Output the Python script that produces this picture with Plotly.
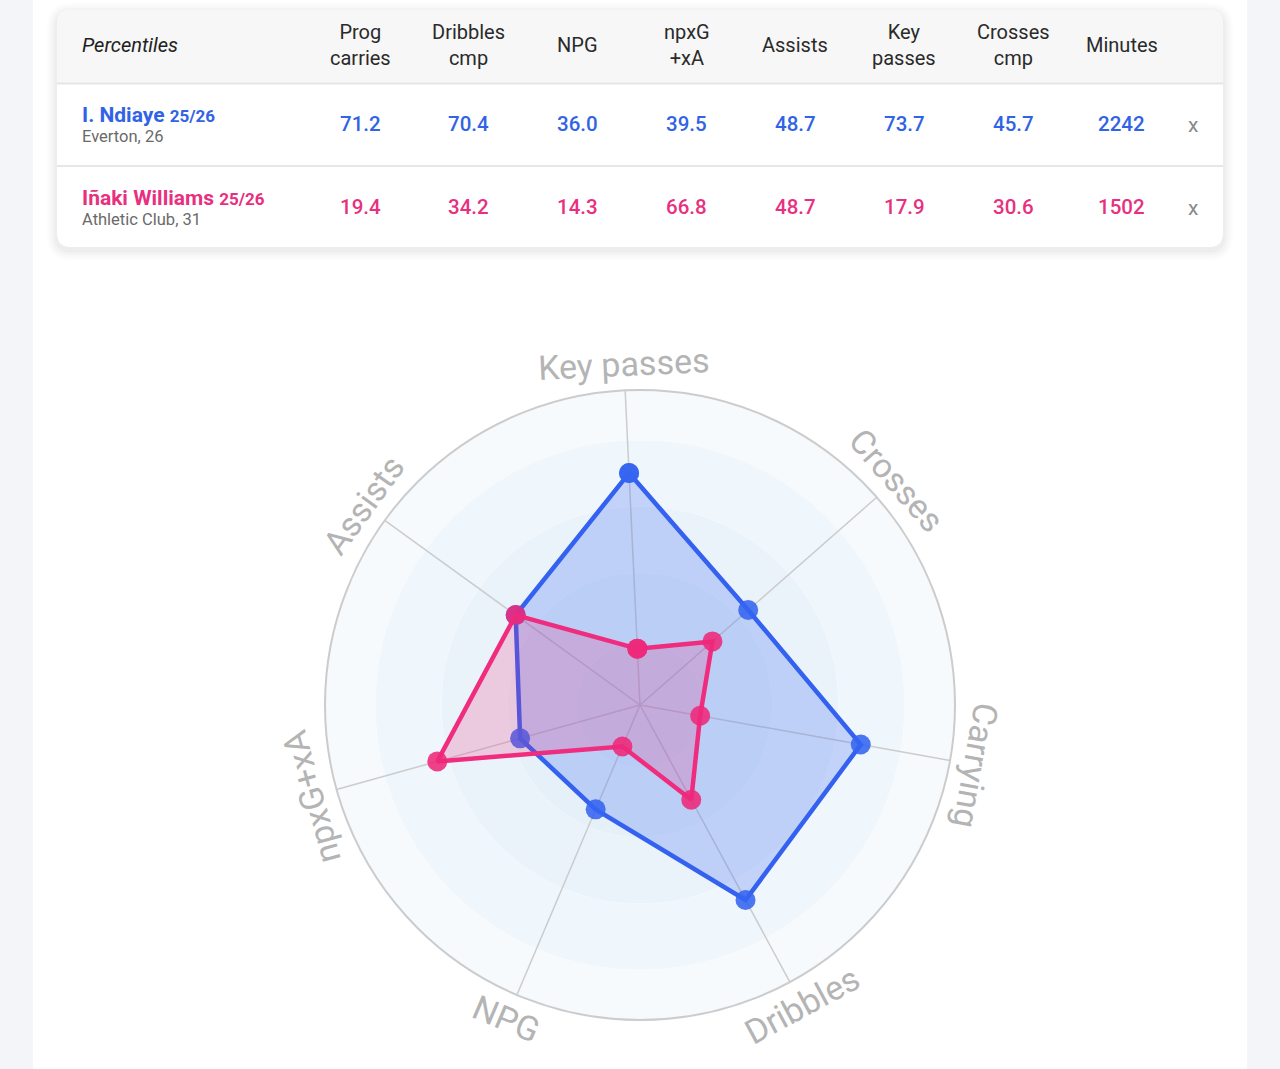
import plotly.graph_objects as go
import math

# ---------------- data ----------------
table_columns = ["Prog<br>carries", "Dribbles<br>cmp", "NPG", "npxG<br>+xA", "Assists",
                 "Key<br>passes", "Crosses<br>cmp", "Minutes"]
player_names = ["I. Ndiaye", "Iñaki Williams"]
player_seasons = ["25/26", "25/26"]
player_subtitles = ["Everton, 26", "Athletic Club, 31"]
ndiaye_table = ["71.2", "70.4", "36.0", "39.5", "48.7", "73.7", "45.7", "2242"]
williams_table = ["19.4", "34.2", "14.3", "66.8", "48.7", "17.9", "30.6", "1502"]

radar_axes = ["Key passes", "Crosses", "Carrying", "Dribbles", "NPG", "npxG+xA", "Assists"]
ndiaye_radar = [73.7, 45.7, 71.2, 70.4, 36.0, 39.5, 48.7]
williams_radar = [17.9, 30.6, 19.4, 34.2, 14.3, 66.8, 48.7]

band_edges = [20, 42, 63, 84, 100]
band_colors = ["#e2eef8", "#e6f0f9", "#eaf3fa", "#eff6fc", "#f6fafd"]

# ---------------- style ----------------
W, H = 1280, 1069
FONT = "Roboto"
BLUE = "#3163e6"
PINK = "#e8307f"
BLUE_LINE = "#3461f0"
PINK_LINE = "#ef2c7d"
CX, CY, R = 640, 705, 315
ROT = 92.7
LABEL_R = 341

fig = go.Figure()

fig.update_xaxes(range=[0, W], visible=False, domain=[0, 1], fixedrange=True)
fig.update_yaxes(range=[H, 0], visible=False, domain=[0, 1], fixedrange=True)
fig.add_trace(go.Scatter(x=[0], y=[0], mode="markers", marker=dict(opacity=0), showlegend=False, hoverinfo="skip"))

def rrect(x0, y0, x1, y1, r, top=True, bottom=True):
    p = []
    if top:
        p.append(f"M{x0},{y0 + r} Q{x0},{y0} {x0 + r},{y0} L{x1 - r},{y0} Q{x1},{y0} {x1},{y0 + r}")
    else:
        p.append(f"M{x0},{y0} L{x1},{y0}")
    if bottom:
        p.append(f"L{x1},{y1 - r} Q{x1},{y1} {x1 - r},{y1} L{x0 + r},{y1} Q{x0},{y1} {x0},{y1 - r}")
    else:
        p.append(f"L{x1},{y1} L{x0},{y1}")
    p.append("Z")
    return " ".join(p)

shapes = []
shapes.append(dict(type="rect", xref="x", yref="y", x0=33, x1=1247, y0=-5, y1=H + 5,
                   fillcolor="white", line=dict(width=0), layer="below"))
for i, a in enumerate([0.010, 0.014, 0.018, 0.024]):
    g = 10 - 2.5 * i
    shapes.append(dict(type="path", xref="x", yref="y",
                       path=rrect(57 - g, 10 - g + 3, 1223 + g, 247 + g + 3, 14 + g),
                       fillcolor=f"rgba(0,0,0,{a})", line=dict(width=0), layer="below"))
TX0, TX1, TY0, TY1 = 57, 1223, 10, 247
shapes.append(dict(type="path", xref="x", yref="y", path=rrect(TX0, TY0, TX1, TY1, 14),
                   fillcolor="white", line=dict(width=0), layer="below"))
shapes.append(dict(type="path", xref="x", yref="y", path=rrect(TX0, TY0, TX1, 83, 14, bottom=False),
                   fillcolor="#f7f7f7", line=dict(width=0), layer="below"))
for yy in [83.5, 166]:
    shapes.append(dict(type="line", xref="x", yref="y", x0=TX0, x1=TX1, y0=yy, y1=yy,
                       line=dict(color="#e6e6e6", width=2), layer="below"))

annotations = []
def ann(x, y, text, size, color, xanchor="center", angle=0, weight=None, italic=False):
    f = dict(family=FONT, size=size, color=color)
    if weight:
        f["weight"] = weight
    if italic:
        f["style"] = "italic"
    annotations.append(dict(x=x, y=y, xref="x", yref="y", text=text, showarrow=False,
                            xanchor=xanchor, yanchor="middle", textangle=angle, font=f,
                            borderpad=0, borderwidth=0))

ann(82, 45, "Percentiles", 20, "#222222", xanchor="left", italic=True)
col_x0, col_dx = 360, 108.85
for i, c in enumerate(table_columns):
    ann(col_x0 + i * col_dx, 45, c, 20, "#2a2a2a")

rows = [(ndiaye_table, BLUE, 0), (williams_table, PINK, 1)]
row_y = [124, 207]
for vals, col, k in rows:
    y = row_y[k]
    ann(82, y - 9, f"<b>{player_names[k]}</b> <span style='font-size:17px'><b>{player_seasons[k]}</b></span>",
        21, col, xanchor="left")
    ann(82, y + 12, player_subtitles[k], 16.5, "#6a6a6a", xanchor="left")
    for i, v in enumerate(vals):
        ann(col_x0 + i * col_dx, y, v, 20.5, col, weight=500)
    ann(1193, y + 1, "x", 21, "#8a8a8a")

# ---------------- radar ----------------
n = len(radar_axes)
thetas = [i * 360 / n for i in range(n)]

inner = 0
for edge, colr in zip(band_edges, band_colors):
    fig.add_trace(go.Barpolar(r=[edge - inner], base=[inner], theta=[0], width=[360],
                              marker=dict(color=colr, line=dict(width=0)),
                              showlegend=False, hoverinfo="skip", subplot="polar"))
    inner = edge

for t in thetas:
    fig.add_trace(go.Scatterpolar(r=[0, band_edges[-1]], theta=[t, t], mode="lines",
                                  line=dict(color="#cccccc", width=1.5),
                                  showlegend=False, hoverinfo="skip", subplot="polar"))

def radar_trace(vals, line_col, fill_col, marker_col, name):
    return go.Scatterpolar(r=vals + vals[:1], theta=thetas + thetas[:1], mode="lines+markers",
                           fill="toself", fillcolor=fill_col,
                           line=dict(color=line_col, width=4.5),
                           marker=dict(size=20, color=marker_col, line=dict(width=0)),
                           name=name, showlegend=False, subplot="polar")

fig.add_trace(radar_trace(ndiaye_radar, BLUE_LINE, "rgba(59,105,240,0.25)", "rgba(52,100,240,0.88)", player_names[0]))
fig.add_trace(radar_trace(williams_radar, PINK_LINE, "rgba(240,40,120,0.2)", "rgba(238,40,122,0.88)", player_names[1]))

for i, lab in enumerate(radar_axes):
    ang = ROT - thetas[i]
    x = CX + LABEL_R * math.cos(math.radians(ang))
    y = CY - LABEL_R * math.sin(math.radians(ang))
    ta = 90 - ang
    ta = (ta + 180) % 360 - 180
    if abs(ta) > 120:
        ta = ta - 180 if ta > 0 else ta + 180
    ann(x, y, lab, 34, "#b4b4b4", angle=ta)

fig.update_layout(
    width=W, height=H,
    margin=dict(l=0, r=0, t=0, b=0),
    paper_bgcolor="#f4f5f8",
    plot_bgcolor="rgba(0,0,0,0)",
    showlegend=False,
    shapes=shapes,
    annotations=annotations,
    polar=dict(
        domain=dict(x=[(CX - R) / W, (CX + R) / W], y=[1 - (CY + R) / H, 1 - (CY - R) / H]),
        bgcolor="rgba(0,0,0,0)",
        barmode="overlay",
        radialaxis=dict(range=[0, 100], visible=False, showgrid=False),
        angularaxis=dict(type="linear", thetaunit="degrees", rotation=ROT, direction="clockwise",
                         showticklabels=False, ticks="", showgrid=False,
                         showline=True, linecolor="#cccccc", linewidth=2),
    ),
)

fig.write_html("out.html", config={"displayModeBar": False})
